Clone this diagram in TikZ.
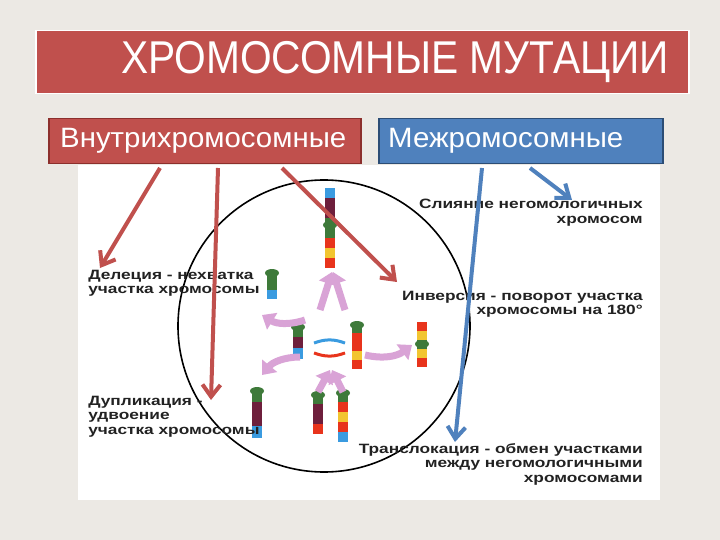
\documentclass[tikz,border=0pt]{standalone}
\usepackage{fontspec}
\setmainfont{Liberation Sans}
\usetikzlibrary{arrows.meta}
\definecolor{bgc}{HTML}{ECE9E4}
\definecolor{redb}{HTML}{C0504D}
\definecolor{redd}{HTML}{8C2F2C}
\definecolor{blueb}{HTML}{4F81BD}
\definecolor{blued}{HTML}{2C4D75}
\definecolor{pinka}{HTML}{D9A3D6}
\definecolor{cgreen}{HTML}{3E7A3A}
\definecolor{cmar}{HTML}{6E1F3C}
\definecolor{cblue}{HTML}{3A9BE0}
\definecolor{cred}{HTML}{E8341C}
\definecolor{cyel}{HTML}{F2C530}
\definecolor{txt}{HTML}{222222}
\tikzset{
  lbl/.style={font=\bfseries\fontsize{13.5}{14.5}\selectfont, text=txt, inner sep=0pt, xscale=1.28, transform shape},
  rarrow/.style={draw=redb, line width=4pt, -{Straight Barb[length=12pt,width=18pt]}},
  barrow/.style={draw=blueb, line width=4pt, -{Straight Barb[length=12pt,width=18pt]}},
  parrow/.style={draw=pinka, line width=7pt, -{Triangle[length=12pt,width=19pt]}},
}
\newcommand{\chrom}[4]{% x, ytop, seglen, list of colors
  \foreach \c [count=\i] in {#4} {
    \fill[\c] (#1-5,{#2+(\i-1)*#3}) rectangle (#1+5,{#2+\i*#3});
  }}
\begin{document}
\begin{tikzpicture}[x=1pt,y=-1pt]
\useasboundingbox (0,0) rectangle (720,540);
\fill[bgc] (0,0) rectangle (720,540);
% title
\node[draw=white, line width=1.5pt, fill=redb, minimum width=653pt, minimum height=63pt, anchor=north west] (title) at (35,30) {};
\node[text=white, anchor=east, inner sep=0pt] (tt) at (669,62) {\fontsize{46}{46}\selectfont\scalebox{0.885}[1]{ХРОМОСОМНЫЕ МУТАЦИИ}};
% category boxes
\node[draw=redd, line width=1.5pt, fill=redb, minimum width=312pt, minimum height=45pt, anchor=north west] (intra) at (48,118) {};
\node[text=white, anchor=west, inner sep=0pt] (intrat) at (60,141) {\fontsize{28}{28}\selectfont\scalebox{1.05}[1]{Внутрихромосомные}};
\node[draw=blued, line width=1.5pt, fill=blueb, minimum width=284pt, minimum height=45pt, anchor=north west] (inter) at (378,118) {};
\node[text=white, anchor=west, inner sep=0pt] (intert) at (388,141) {\fontsize{28}{28}\selectfont\scalebox{1.05}[1]{Межромосомные}};
% white picture panel
\fill[white] (78,165) rectangle (660,500);
\node[draw=black, line width=1.6pt, circle, minimum size=292pt, inner sep=0pt] (circ) at (324,326) {};
% chromosomes
\chrom{330}{188}{10}{cblue,cmar,cmar,cgreen,cgreen,cred,cyel,cred}
\fill[cgreen] (330,225) ellipse (7 and 4);
\chrom{272}{272}{9}{cgreen,cgreen,cblue}
\fill[cgreen] (272,273) ellipse (7 and 4);
\chrom{298}{326}{11}{cgreen,cmar,cblue}
\fill[cgreen] (298,327) ellipse (7 and 4);
\chrom{357}{324}{9}{cgreen,cred,cred,cyel,cred}
\fill[cgreen] (357,325) ellipse (7 and 4);
\chrom{422}{322}{9}{cred,cyel,cgreen,cyel,cred}
\fill[cgreen] (422,344) ellipse (7 and 4);
\chrom{257}{390}{12}{cgreen,cmar,cmar,cblue}
\fill[cgreen] (257,391) ellipse (7 and 4);
\chrom{318}{394}{10}{cgreen,cmar,cmar,cred}
\fill[cgreen] (318,395) ellipse (7 and 4);
\chrom{343}{392}{10}{cgreen,cred,cyel,cred,cblue}
\fill[cgreen] (343,393) ellipse (7 and 4);
% swap arrows in the centre
\draw[cblue, line width=3pt] (314,343) to[bend left=20] (345,343);
\draw[cred, line width=3pt] (314,353) to[bend right=20] (345,353);
% pink arrows
\draw[parrow] (305,320) to[bend left=25] (262,315);
\draw[parrow] (300,357) to[bend right=25] (262,375);
\draw[parrow] (320,310) -- (332,272);
\draw[parrow] (345,310) -- (333,272);
\draw[parrow] (365,355) to[bend right=25] (412,345);
\draw[parrow] (318,392) -- (330,370);
\draw[parrow] (343,392) -- (332,370);
% labels
\node[lbl, align=right, anchor=north east] (sl) at (643,199) {Слияние негомологичных\\хромосом};
\node[lbl, align=left, anchor=north west] (del) at (88,270) {Делеция - нехватка\\участка хромосомы};
\node[lbl, align=right, anchor=north east] (inv) at (643,291) {Инверсия - поворот участка\\хромосомы на 180°};
\node[lbl, align=left, anchor=north west] (dup) at (88,396) {Дупликация -\\удвоение\\участка хромосомы};
\node[lbl, align=right, anchor=north east] (tr) at (643,443) {Транслокация - обмен участками\\между негомологичными\\хромосомами};
% connectors
\coordinate (r1) at (160,168); \coordinate (r2) at (218,168); \coordinate (r3) at (282,168);
\coordinate (b1) at (482,168); \coordinate (b2) at (530,168);
\draw[rarrow] (r1) -- (100,268);
\draw[rarrow] (r2) -- (211,400);
\draw[rarrow] (r3) -- (397,282);
\draw[barrow] (b1) -- (455,442);
\draw[barrow] (b2) -- (572,200);
\end{tikzpicture}
\end{document}
